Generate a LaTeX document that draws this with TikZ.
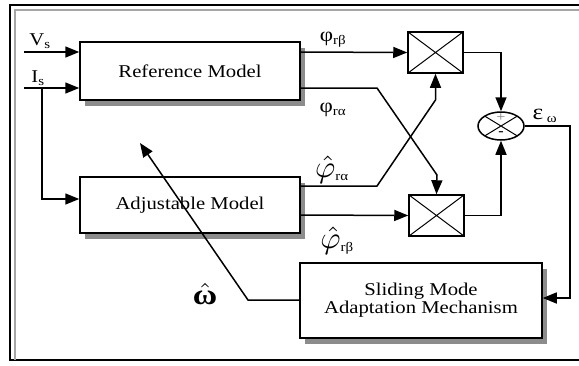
\documentclass[tikz,border=0pt]{standalone}
\usepackage{fontspec}
\setmainfont[FakeStretch=1.15]{Liberation Serif}
\usepackage{amsmath}
\usepackage{tikz}
\usetikzlibrary{arrows.meta,shapes.geometric,shadows}

\tikzset{
  block/.style={draw, fill=white, line width=1.5pt, minimum width=#1,
    drop shadow={shadow xshift=5pt, shadow yshift=-6pt, fill=gray!90, opacity=1},
    font=\fontsize{18}{20}\selectfont, align=center},
  mult/.style={draw, fill=white, line width=1.5pt, minimum width=55pt, minimum height=41pt,
    path picture={\draw[line width=1pt] (path picture bounding box.north west) -- (path picture bounding box.south east)
      (path picture bounding box.north east) -- (path picture bounding box.south west);}},
  summer/.style={ellipse, draw, line width=1.5pt, minimum width=46pt, minimum height=28pt, inner sep=0pt,
    path picture={\draw[line width=1pt] (path picture bounding box.north west) -- (path picture bounding box.south east)
      (path picture bounding box.north east) -- (path picture bounding box.south west);}},
  sig/.style={line width=1.5pt, -{Triangle[length=14pt,width=11pt]}},
  lbl/.style={font=\fontsize{18}{20}\selectfont, inner sep=0pt},
}
\newcommand{\sbs}[1]{\textsubscript{\fontsize{13}{14}\selectfont #1}}
\newcommand{\phihat}{\scalebox{3.1}{\normalsize$\hat{\varphi}$}}

\begin{document}
\begin{tikzpicture}[x=1pt, y=-1pt]
\useasboundingbox (0,0) rectangle (579,365);
%%%%% Frame %%%%%
\draw[line width=1.5pt] (579,5) -- (10,5) -- (10,360) -- (579,360);
\draw[line width=1.5pt, color=gray!70] (579,10) -- (15,10) -- (15,360);

%%%%% Blocks %%%%%
\node[block=220pt, minimum height=58pt] (ref) at (190,71) {Reference Model};
\node[block=220pt, minimum height=56pt] (adj) at (190,205) {Adjustable Model};
\node[block=242pt, minimum height=75pt] (smam) at (421,300.5) {Sliding Mode\\[-2pt]Adaptation Mechanism};
\node[mult] (mulb) at (435.5,52.5) {};
\node[mult] (mula) at (436.5,215.5) {};
\node[summer] (sum) at (501,126) {};
\node[font=\fontsize{14}{14}\selectfont, text=gray, inner sep=0pt] (plus) at (501,118) {+};
\node[font=\bfseries\fontsize{14}{14}\selectfont, inner sep=0pt] (minus) at (501,134) {-};

%%%%% Inputs %%%%%
\coordinate (vs) at (24,52);
\coordinate (is) at (24,88);
\coordinate (isb) at (42,88);
\draw[sig] (vs) -- (ref.west |- vs);
\draw[sig] (is) -- (ref.west |- is);
\draw[sig] (isb) -- (42,199) -- (adj.west |- 0,199);
\node[lbl] (vslbl) at (40,41) {V\sbs{s}};
\node[lbl] (islbl) at (38,78) {I\sbs{s}};

%%%%% Fluxes %%%%%
\draw[sig] (ref.east |- 0,52) -- (mulb.west);
\draw[sig] (ref.east |- 0,88) -- (377,88) -- (437,175) -- (mula.north);
\draw[sig] (adj.east |- 0,186) -- (377,186) -- (435.5,100) -- (mulb.south);
\draw[sig] (adj.east |- 0,215) -- (mula.west);
\node[lbl, font=\fontsize{20}{22}\selectfont] (phirb) at (333,40) {φ\sbs{rβ}};
\node[lbl, font=\fontsize{20}{22}\selectfont] (phira) at (333,110) {φ\sbs{rα}};
\node[lbl] (phiha) at (332,170) {\phihat\sbs{rα}};
\node[lbl] (phihb) at (337,241) {\phihat\sbs{rβ}};

%%%%% Error %%%%%
\draw[sig] (mulb.east) -- (sum.north |- mulb.east) -- (sum.north);
\draw[sig] (mula.east) -- (sum.south |- mula.east) -- (sum.south);
\draw[sig] (sum.east) -- (570,126) -- (570,298) -- (smam.east |- 0,298);
\node[lbl, font=\fontsize{22}{24}\selectfont] (eps) at (545,116) {ε\,\sbs{ω}};

%%%%% Speed %%%%%
\draw[sig] (smam.west |- 0,300) -- (248,300) -- (140,143);
\node[lbl] (omega) at (205,294) {\scalebox{2.9}{\normalsize$\hat{\text{\bfseries ω}}$}};
\end{tikzpicture}
\end{document}
